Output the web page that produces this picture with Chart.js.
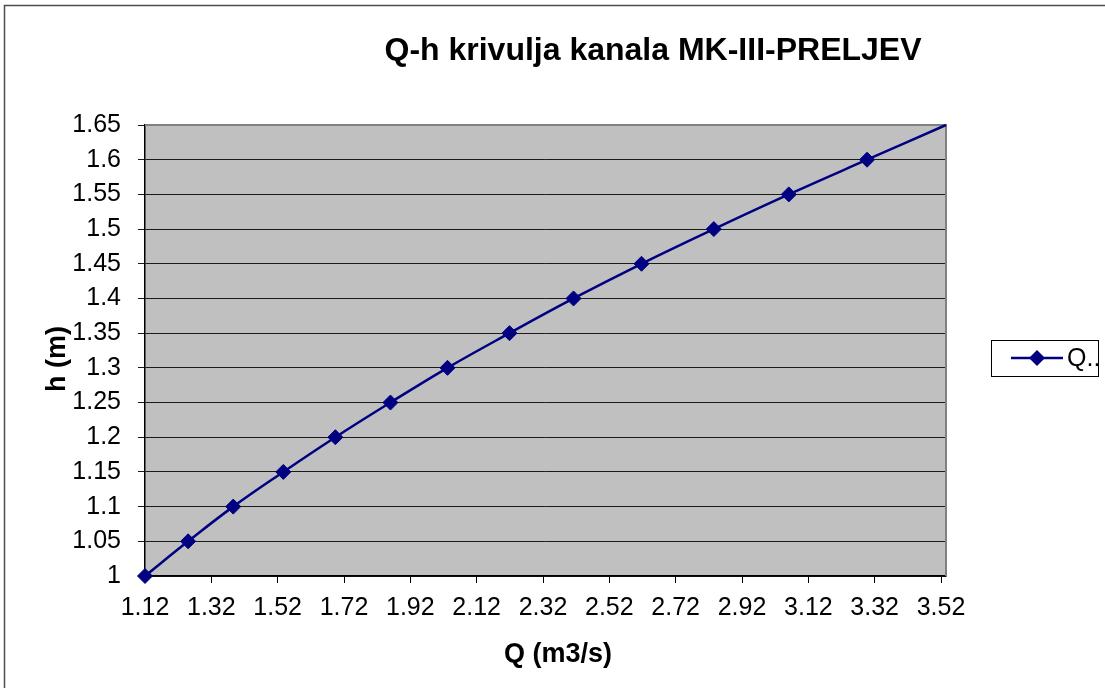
<!DOCTYPE html>
<html>
<head>
<meta charset="utf-8">
<script src="https://cdn.jsdelivr.net/npm/chart.js@4/dist/chart.umd.min.js"></script>
<style>
  html, body { margin: 0; padding: 0; background: #ffffff; }
  #wrap { width: 1105px; height: 688px; position: relative; }
  canvas { display: block; }
</style>
</head>
<body>
<div id="wrap"><canvas id="c" width="1105" height="688"></canvas></div>
<script>
// ---- data ----
const chartTitle = 'Q-h krivulja kanala MK-III-PRELJEV';
const xTitle = 'Q (m3/s)';
const yTitle = 'h (m)';
const seriesLabel = 'Q..';
const hValues = [1.00, 1.05, 1.10, 1.15, 1.20, 1.25, 1.30, 1.35, 1.40, 1.45, 1.50, 1.55, 1.60, 1.65];
const qValues = [1.12, 1.25, 1.386, 1.537, 1.694, 1.860, 2.032, 2.219, 2.412, 2.617, 2.835, 3.061, 3.297, 3.535];
const xTicks = [1.12, 1.32, 1.52, 1.72, 1.92, 2.12, 2.32, 2.52, 2.72, 2.92, 3.12, 3.32, 3.52];
const yTicks = [1.00, 1.05, 1.10, 1.15, 1.20, 1.25, 1.30, 1.35, 1.40, 1.45, 1.50, 1.55, 1.60, 1.65];
const xMin = 1.12, xMax = 3.535, yMin = 1.00, yMax = 1.65;

const FONT = '"Liberation Sans", Arial, sans-serif';
const NAVY = '#000080';

const points = qValues.map((q, i) => ({ x: q, y: hValues[i] }));

const decorPlugin = {
  id: 'decor',
  beforeDraw(chart) {
    const { ctx, chartArea: a } = chart;
    ctx.save();
    ctx.fillStyle = '#ffffff';
    ctx.fillRect(0, 0, chart.width, chart.height);
    // outer chart frame
    ctx.strokeStyle = '#4d4d4d';
    ctx.lineWidth = 1.5;
    ctx.strokeRect(4.5, 5.5, 1300, 1300);
    // plot area
    ctx.fillStyle = '#c0c0c0';
    ctx.fillRect(a.left, a.top, a.right - a.left, a.bottom - a.top);
    ctx.restore();
  },
  beforeDatasetsDraw(chart) {
    const { ctx, chartArea: a } = chart;
    ctx.save();
    ctx.strokeStyle = '#808080';
    ctx.lineWidth = 2;
    ctx.beginPath();
    ctx.moveTo(a.left, a.top);
    ctx.lineTo(a.right, a.top);
    ctx.lineTo(a.right, a.bottom);
    ctx.stroke();
    ctx.restore();
  },
  afterDraw(chart) {
    const { ctx } = chart;
    ctx.save();
    ctx.fillStyle = '#000000';
    // title
    ctx.font = 'bold 32px ' + FONT;
    ctx.textAlign = 'center';
    ctx.textBaseline = 'alphabetic';
    ctx.fillText(chartTitle, 653, 60);
    // x title
    ctx.font = 'bold 27px ' + FONT;
    ctx.fillText(xTitle, 558, 662);
    // y title
    ctx.save();
    ctx.translate(65, 359);
    ctx.rotate(-Math.PI / 2);
    ctx.fillText(yTitle, 0, 0);
    ctx.restore();
    // legend
    ctx.strokeStyle = '#000000';
    ctx.lineWidth = 1;
    ctx.strokeRect(991.5, 340.5, 107, 36);
    ctx.strokeStyle = NAVY;
    ctx.lineWidth = 2.5;
    ctx.beginPath();
    ctx.moveTo(1011, 358);
    ctx.lineTo(1063, 358);
    ctx.stroke();
    ctx.fillStyle = NAVY;
    ctx.beginPath();
    ctx.moveTo(1029, 358);
    ctx.lineTo(1037, 350);
    ctx.lineTo(1045, 358);
    ctx.lineTo(1037, 366);
    ctx.closePath();
    ctx.fill();
    ctx.fillStyle = '#000000';
    ctx.font = '25px ' + FONT;
    ctx.textAlign = 'left';
    ctx.textBaseline = 'middle';
    ctx.fillText(chart.data.datasets[0].label, 1067, 359);
    ctx.restore();
  }
};

new Chart(document.getElementById('c'), {
  type: 'scatter',
  data: {
    datasets: [{
      label: seriesLabel,
      data: points,
      showLine: true,
      tension: 0.4,
      borderColor: NAVY,
      borderWidth: 2.5,
      backgroundColor: NAVY,
      pointStyle: 'rectRot',
      pointRadius: (c) => (c.dataIndex === hValues.length - 1 ? 0 : 7.5),
      pointBorderWidth: 1,
      pointBorderColor: NAVY,
      pointBackgroundColor: NAVY,
      clip: false
    }]
  },
  options: {
    responsive: false,
    animation: false,
    devicePixelRatio: 1,
    layout: { padding: { left: 0, top: 125, right: 159, bottom: 0 } },
    plugins: {
      legend: { display: false },
      title: { display: false },
      tooltip: { enabled: false }
    },
    scales: {
      x: {
        type: 'linear',
        min: xMin,
        max: xMax,
        afterBuildTicks: (s) => { s.ticks = xTicks.map(v => ({ value: v })); },
        afterFit: (s) => { s.height = 112; },
        grid: {
          drawOnChartArea: false,
          drawTicks: true,
          tickLength: 7,
          color: '#000000',
          lineWidth: 1
        },
        border: { display: true, color: '#000000', width: 1.5 },
        ticks: {
          autoSkip: false,
          maxRotation: 0,
          padding: 10,
          color: '#000000',
          font: { family: FONT, size: 25 },
          callback: (v) => Number(v).toFixed(2)
        }
      },
      y: {
        type: 'linear',
        min: yMin,
        max: yMax,
        afterBuildTicks: (s) => { s.ticks = yTicks.map(v => ({ value: v })); },
        afterFit: (s) => { s.width = 145; },
        grid: {
          drawOnChartArea: true,
          drawTicks: true,
          tickLength: 7,
          color: '#1a1a1a',
          lineWidth: 1
        },
        border: { display: true, color: '#000000', width: 1.5 },
        ticks: {
          autoSkip: false,
          padding: 17,
          color: '#000000',
          font: { family: FONT, size: 25 },
          callback: (v) => String(Number(Number(v).toFixed(2)))
        }
      }
    }
  },
  plugins: [decorPlugin]
});
</script>
</body>
</html>
